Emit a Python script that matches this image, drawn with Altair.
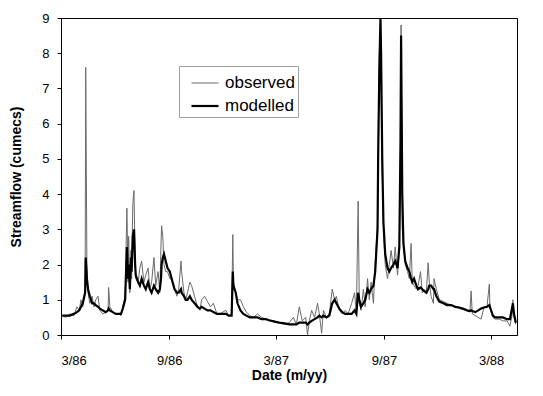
import altair as alt
import pandas as pd

# days since 1 March 1986
day = [2, 8, 15, 22, 27, 31, 34, 37, 41, 42, 44, 46, 49, 53, 56, 59, 63, 66, 71, 76,
       80, 81, 83, 88, 93, 98, 102, 105, 109, 110, 112, 114, 115, 117, 119, 120, 122, 124, 126, 127,
       131, 134, 137, 141, 144, 148, 151, 154, 158, 161, 165, 168, 170, 171, 173, 175, 178, 181, 185, 188,
       193, 197, 200, 204, 205, 209, 212, 215, 219, 222, 227, 232, 236, 239, 244, 249, 254, 259, 265, 270,
       275, 280, 285, 290, 292, 293, 297, 300, 305, 310, 315, 321, 327, 334, 341, 348, 354, 363, 371, 380,
       388, 395, 400, 405, 410, 416, 419, 422, 426, 431, 436, 439, 443, 446, 451, 456, 461, 465, 468, 473,
       478, 483, 488, 494, 499, 502, 505, 507, 510, 514, 517, 521, 524, 527, 531, 534, 538, 539, 541, 543,
       544, 546, 548, 551, 555, 558, 561, 565, 568, 572, 575, 577, 578, 580, 582, 585, 589, 592, 595, 597,
       600, 604, 607, 611, 614, 617, 621, 624, 626, 629, 633, 634, 638, 643, 650, 656, 663, 670, 677, 683,
       690, 695, 697, 699, 704, 709, 714, 719, 724, 728, 729, 734, 738, 745, 751, 758, 763, 767, 768, 770,
       773]

observed = [0.55, 0.5, 0.6, 0.55, 0.8, 0.7, 1.0, 0.8, 1.3, 7.6, 2.0, 1.2, 0.9, 1.1, 0.8, 1.0, 1.1, 0.7, 0.6, 0.65,
            0.7, 1.35, 0.8, 0.65, 0.6, 0.6, 0.55, 0.8, 1.1, 2.0, 3.6, 1.5, 2.8, 1.2, 2.4, 1.6, 3.7, 4.1, 2.2, 1.6,
            1.5, 1.9, 2.1, 1.5, 1.7, 1.9, 1.3, 1.5, 2.2, 1.4, 1.8, 1.2, 2.6, 3.1, 2.8, 2.0, 1.8, 1.8, 1.6, 1.6,
            1.3, 1.1, 1.3, 2.1, 1.8, 1.2, 1.0, 1.2, 1.5, 1.4, 1.1, 0.8, 0.7, 1.0, 1.1, 0.95, 0.8, 0.9, 0.6, 0.6,
            0.65, 0.7, 0.55, 0.6, 2.85, 1.5, 1.2, 1.0, 1.0, 0.8, 0.65, 0.55, 0.5, 0.6, 0.5, 0.45, 0.4, 0.4, 0.35, 0.3,
            0.35, 0.5, 0.3, 0.8, 0.4, 0.5, 0.0, 0.4, 0.7, 0.5, 0.9, 0.6, 0.05, 0.7, 0.5, 0.6, 1.3, 1.0, 1.1, 0.7,
            0.6, 0.7, 0.6, 0.9, 1.2, 0.6, 3.8, 0.9, 0.7, 1.3, 0.8, 1.6, 1.0, 1.5, 0.9, 2.0, 3.2, 5.5, 8.0, 9.0,
            7.0, 4.5, 3.0, 2.0, 1.6, 2.0, 2.4, 1.9, 2.5, 1.7, 2.5, 5.0, 8.8, 3.0, 2.6, 2.0, 1.8, 1.6, 2.6, 1.5,
            1.4, 1.3, 1.4, 1.8, 1.2, 1.3, 1.2, 2.05, 1.5, 1.1, 0.9, 1.6, 1.3, 1.0, 0.95, 0.9, 0.85, 0.8, 0.75, 0.72,
            0.7, 0.65, 1.25, 0.6, 0.55, 0.5, 0.45, 0.8, 0.8, 1.45, 0.8, 0.5, 0.45, 0.45, 0.4, 0.4, 0.25, 0.6, 1.0, 0.5,
            0.3]

modelled = [0.55, 0.55, 0.55, 0.6, 0.65, 0.7, 0.8, 0.9, 1.2, 2.2, 1.6, 1.3, 1.1, 0.9, 0.9, 0.85, 0.8, 0.75, 0.7, 0.65,
            0.7, 0.75, 0.7, 0.65, 0.6, 0.6, 0.6, 0.75, 1.0, 1.5, 2.5, 1.6, 2.0, 1.3, 2.2, 1.8, 2.8, 3.0, 2.0, 1.7,
            1.5, 1.4, 1.6, 1.4, 1.3, 1.5, 1.3, 1.2, 1.4, 1.3, 1.2, 1.3, 1.6, 2.0, 2.2, 2.3, 2.1, 1.9, 1.8, 1.6,
            1.3, 1.2, 1.2, 1.3, 1.2, 1.1, 1.0, 1.0, 1.1, 1.0, 0.9, 0.8, 0.75, 0.8, 0.75, 0.7, 0.7, 0.65, 0.6, 0.6,
            0.6, 0.6, 0.55, 0.55, 1.8, 1.4, 1.2, 0.9, 0.7, 0.6, 0.55, 0.5, 0.5, 0.5, 0.45, 0.45, 0.42, 0.38, 0.35, 0.33,
            0.3, 0.3, 0.3, 0.35, 0.35, 0.35, 0.3, 0.35, 0.4, 0.45, 0.5, 0.55, 0.5, 0.55, 0.5, 0.55, 0.9, 1.0, 0.9, 0.75,
            0.65, 0.6, 0.6, 0.6, 0.7, 0.6, 1.2, 1.0, 0.8, 0.9, 1.0, 1.3, 1.2, 1.3, 1.4, 1.8, 3.0, 5.0, 7.5, 9.0,
            8.0, 5.0, 3.2, 2.3, 1.9, 1.8, 1.9, 2.0, 2.1, 1.9, 2.5, 5.5, 8.5, 4.0, 2.6, 2.1, 1.9, 1.8, 1.6, 1.5,
            1.6, 1.4, 1.3, 1.35, 1.3, 1.25, 1.2, 1.3, 1.4, 1.4, 1.3, 1.3, 1.1, 0.95, 0.9, 0.85, 0.85, 0.8, 0.78, 0.75,
            0.7, 0.68, 0.7, 0.68, 0.65, 0.7, 0.75, 0.78, 0.8, 0.85, 0.8, 0.55, 0.5, 0.5, 0.5, 0.45, 0.45, 0.8, 0.9, 0.6,
            0.35]

series_names = ["observed", "modelled"]
series_colors = ["#6a6a6a", "#000000"]
series_widths = [1.0, 2.2]
tick_dates = [(1986, 3), (1986, 9), (1987, 3), (1987, 9), (1988, 3)]

start = pd.Timestamp("1986-03-01")
dates = [start + pd.Timedelta(days=d) for d in day]
df = pd.concat([
    pd.DataFrame({"date": dates, "value": observed, "series": "observed", "k": 0}),
    pd.DataFrame({"date": dates, "value": modelled, "series": "modelled", "k": 1}),
], ignore_index=True)

FONT = "Liberation Sans"
legend = alt.Legend(orient="none", legendX=118, legendY=48, title=None,
                    symbolType="stroke", symbolSize=729, symbolOffset=8, labelFontSize=17,
                    labelFont=FONT, labelColor="#000", strokeColor="#a0a0a0",
                    padding=3, rowPadding=0, labelOffset=5)

chart = alt.Chart(df).mark_line(interpolate="linear").encode(
    x=alt.X("date:T",
            scale=alt.Scale(domain=[alt.DateTime(year=1986, month=3, date=1),
                                    alt.DateTime(year=1988, month=4, date=14)]),
            axis=alt.Axis(values=[alt.DateTime(year=y, month=m, date=1) for y, m in tick_dates],
                          labelExpr="(month(datum.value)+1) + '/' + timeFormat(datum.value, '%y')",
                          title="Date (m/yy)", grid=False, tickSize=4, labelPadding=15,
                          titlePadding=1)),
    y=alt.Y("value:Q", scale=alt.Scale(domain=[0, 9], nice=False),
            axis=alt.Axis(values=list(range(10)), title="Streamflow (cumecs)", grid=False,
                          tickSize=4, labelPadding=8, titlePadding=18)),
    color=alt.Color("series:N", scale=alt.Scale(domain=series_names, range=series_colors),
                    legend=legend),
    strokeWidth=alt.StrokeWidth("series:N", scale=alt.Scale(domain=series_names, range=series_widths),
                                legend=legend),
    order=alt.Order("k:Q"),
).properties(width=456, height=317, padding={"left": 1, "top": 4, "right": 5, "bottom": 5}).configure_view(
    stroke="#000", strokeWidth=1
).configure_axis(
    domainColor="#000", tickColor="#000", labelColor="#000", titleColor="#000",
    labelFont=FONT, titleFont=FONT, labelFontSize=13, titleFontSize=14, titleFontWeight="bold"
)

chart.save("out.html", embed_options={"renderer": "svg", "actions": False})
